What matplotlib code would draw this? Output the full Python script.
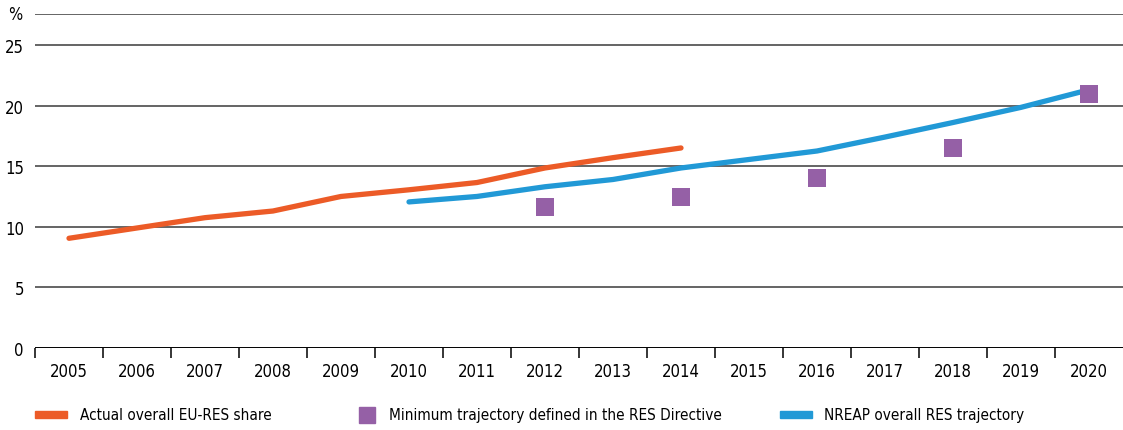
import numpy as np
import matplotlib.pyplot as plt
from matplotlib.patches import Rectangle

years = [str(y) for y in range(2005, 2021)]

actual_years = list(range(2005, 2015))
actual_share = [9.05, 9.9, 10.75, 11.3, 12.5, 13.05, 13.65, 14.85, 15.7, 16.5]

nreap_years = list(range(2010, 2021))
nreap_share = [12.05, 12.5, 13.3, 13.9, 14.85, 15.55, 16.25, 17.4, 18.6, 19.85, 21.3]

min_years = [2012, 2014, 2016, 2018, 2020]
min_share = [11.6, 12.45, 14.0, 16.5, 20.95]

orange = '#EC5B27'
blue = '#2199D6'
purple = '#9560A6'

plt.rcParams['font.family'] = ['DejaVu Sans']
plt.rcParams['font.stretch'] = 'condensed'

fig = plt.figure(figsize=(11.23, 4.31), dpi=100)
ax = fig.add_axes([35 / 1123, 1 - 349 / 431, 1 - 35 / 1123, (349 - 15) / 431])

x0 = 2005
ax.plot([y - x0 for y in actual_years], actual_share, color=orange, lw=3.8,
        solid_capstyle='round', zorder=3)
ax.plot([y - x0 for y in nreap_years], nreap_share, color=blue, lw=3.8,
        solid_capstyle='round', zorder=3)
ax.scatter([y - x0 for y in min_years], min_share, marker='s', s=150,
           color=purple, zorder=4, linewidths=0)

ax.set_xlim(-0.5, len(years) - 0.5)
ax.set_ylim(0, 27.55)

for v in [5, 10, 15, 20, 25, 27.55]:
    ax.axhline(v, color='#3a3a3a', lw=1.1, zorder=1)
ax.axhline(0, color='black', lw=1.4, zorder=2)

ax.set_yticks([0, 5, 10, 15, 20, 25])
ax.set_yticklabels(['0', '5', '10', '15', '20', '25'], fontsize=12)
ax.tick_params(axis='y', length=0, pad=8)

ax.set_xticks(np.arange(len(years)))
ax.set_xticklabels(years, fontsize=12)
ax.set_xticks(np.arange(len(years)) - 0.5, minor=True)
ax.tick_params(axis='x', which='major', length=0, pad=10)
ax.tick_params(axis='x', which='minor', length=7, width=1.1, color='black', direction='out')

for s in ax.spines.values():
    s.set_visible(False)

fig.text(15 / 1123, 1 - 15 / 431, '%', fontsize=12, ha='center', va='center')

# legend
ly = 1 - 416 / 431
fig.add_artist(Rectangle((35 / 1123, ly - 3 / 431), 32 / 1123, 7 / 431,
                         color=orange, transform=fig.transFigure))
fig.text(80 / 1123, ly, 'Actual overall EU-RES share', fontsize=11, va='center')
fig.add_artist(Rectangle((359 / 1123, ly - 8 / 431), 16 / 1123, 16 / 431,
                         color=purple, transform=fig.transFigure))
fig.text(389 / 1123, ly, 'Minimum trajectory defined in the RES Directive', fontsize=11, va='center')
fig.add_artist(Rectangle((780 / 1123, ly - 3 / 431), 32 / 1123, 7 / 431,
                         color=blue, transform=fig.transFigure))
fig.text(824 / 1123, ly, 'NREAP overall RES trajectory', fontsize=11, va='center')

fig.savefig('out.png', dpi=100)
